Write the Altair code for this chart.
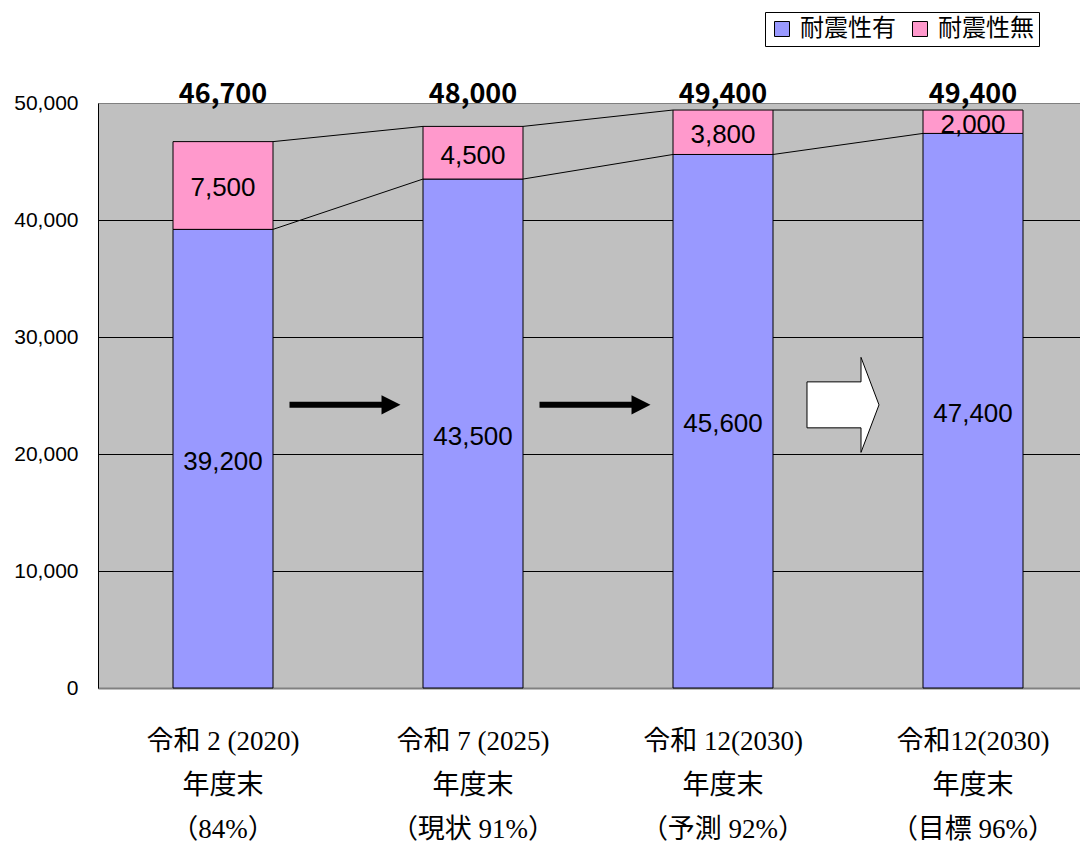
import altair as alt
import pandas as pd

# ---- data ----
label_line1 = ["令和 2 (2020)", "令和 7 (2025)", "令和 12(2030)", "令和12(2030)"]
label_line2 = ["年度末", "年度末", "年度末", "年度末"]
label_line3 = ["（84%）", "（現状 91%）", "（予測 92%）", "（目標 96%）"]
categories = ["|".join(t) for t in zip(label_line1, label_line2, label_line3)]

series_names = ["耐震性有", "耐震性無"]
with_resist = [39200, 43500, 45600, 47400]
without_resist = [7500, 4500, 3800, 2000]
totals = [46700, 48000, 49400, 49400]
y_ticks = [0, 10000, 20000, 30000, 40000, 50000]
arrow_level = 24200

# ---- tables ----
bars_df = pd.DataFrame({
    "cat": categories * 2,
    "series": [series_names[0]] * 4 + [series_names[1]] * 4,
    "value": with_resist + without_resist,
    "order": [0] * 4 + [1] * 4,
})
bars_df["mid"] = [v / 2 for v in with_resist] + [w + n / 2 for w, n in zip(with_resist, without_resist)]

rows = []
for i in range(len(categories) - 1):
    rows.append({"cat": categories[i], "nxt": categories[i + 1], "v0": with_resist[i], "v1": with_resist[i + 1]})
    rows.append({"cat": categories[i], "nxt": categories[i + 1], "v0": totals[i], "v1": totals[i + 1]})
lines_df = pd.DataFrame(rows)

totals_df = pd.DataFrame({"cat": categories, "total": totals})
arrows_df = pd.DataFrame({"cat": categories[:2], "level": [arrow_level] * 2})
block_df = pd.DataFrame({"cat": [categories[2]], "level": [arrow_level]})

BLACK_ARROW = "M-1,-0.054 L0.658,-0.054 L0.658,-0.173 L1,0 L0.658,0.173 L0.658,0.054 L-1,0.054 Z"
BLOCK_ARROW = "M-0.758,-0.484 L0.379,-0.484 L0.379,-1 L0.758,0 L0.379,1 L0.379,0.484 L-0.758,0.484 Z"

x_scale = alt.Scale(domain=categories, range=[0, 1000], paddingInner=0.6, paddingOuter=0.3)
y_scale = alt.Scale(domain=[0, 50000], nice=False)
x_axis = alt.Axis(title=None, labelExpr="split(datum.label, '|')", labelAngle=0)
y_axis = alt.Axis(title=None, values=y_ticks, labelExpr="format(datum.value, ',')")

bars = alt.Chart(bars_df).mark_bar(stroke="black", strokeWidth=1).encode(
    x=alt.X("cat:N", scale=x_scale, axis=x_axis),
    y=alt.Y("value:Q", stack="zero", scale=y_scale, axis=y_axis),
    color=alt.Color(
        "series:N",
        scale=alt.Scale(domain=series_names, range=["#9999FF", "#FF99CC"]),
        legend=alt.Legend(
            title=None, orient="none", legendX=667, legendY=-91, direction="horizontal",
            symbolType="square", symbolSize=225, symbolStrokeColor="black", symbolStrokeWidth=1,
            labelFont="Noto Sans CJK JP", labelFontSize=24, labelColor="black",
            strokeColor="black", fillColor="white", padding=5, columnPadding=12, labelOffset=6,
        ),
    ),
    order=alt.Order("order:Q"),
)

rules = alt.Chart(lines_df).mark_rule(color="black", strokeWidth=1, xOffset=50, x2Offset=-50).encode(
    x=alt.X("cat:N", axis=x_axis), x2="nxt",
    y=alt.Y("v0:Q", scale=y_scale, axis=y_axis), y2="v1",
)

seg_text = alt.Chart(bars_df).mark_text(font="Liberation Sans", fontSize=26, color="black", dy=3).encode(
    x=alt.X("cat:N", axis=x_axis),
    y=alt.Y("mid:Q", scale=y_scale, axis=y_axis),
    text=alt.Text("value:Q", format=","),
)

tot_text = alt.Chart(totals_df).mark_text(
    font="Noto Sans CJK JP", fontWeight="bold", fontSize=27, baseline="alphabetic", dy=0, color="black"
).encode(
    x=alt.X("cat:N", axis=x_axis), y=alt.value(0), text=alt.Text("total:Q", format=","),
)

arrows = alt.Chart(arrows_df).mark_point(
    shape=BLACK_ARROW, size=12321, filled=True, fill="black", opacity=1, strokeWidth=0, xOffset=122
).encode(x=alt.X("cat:N", axis=x_axis), y=alt.Y("level:Q", scale=y_scale, axis=y_axis))

block = alt.Chart(block_df).mark_point(
    shape=BLOCK_ARROW, size=9025, filled=True, fill="white", stroke="black", strokeWidth=1, opacity=1, xOffset=120
).encode(x=alt.X("cat:N", axis=x_axis), y=alt.Y("level:Q", scale=y_scale, axis=y_axis))

chart = alt.layer(bars, rules, seg_text, tot_text, arrows, block).properties(
    width=982, height=585,
    autosize=alt.AutoSizeParams(type="none"),
    padding={"left": 90, "top": 95, "right": 0, "bottom": 160},
).configure_view(
    fill="#C0C0C0", strokeWidth=0
).configure_axisX(
    labelFont="Liberation Serif, Noto Sans CJK JP", labelFontSize=27, labelLineHeight=44,
    labelPadding=40, labelColor="black", labelLimit=400, labelOverlap=False,
    ticks=False, domainColor="#808080", domainWidth=2, grid=False,
).configure_axisY(
    labelFont="Liberation Sans", labelFontSize=21, labelColor="black", labelPadding=20,
    ticks=False, domainColor="black", domainWidth=1, grid=True, gridWidth=1,
    gridColor={"condition": {"test": "datum.value >= 50000", "value": "#808080"}, "value": "#000000"},
)

chart.save("out.html", embed_options={"renderer": "svg", "actions": False})
